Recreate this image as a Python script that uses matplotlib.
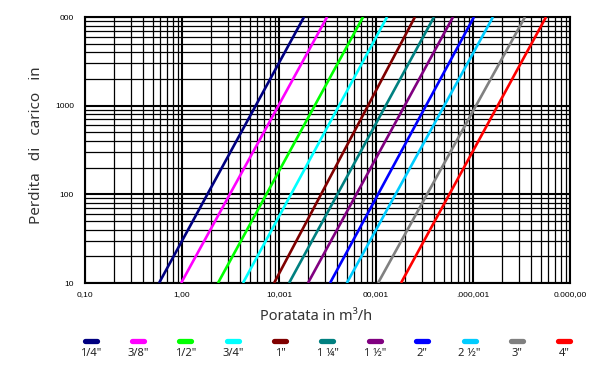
import matplotlib
matplotlib.use("Agg")
import matplotlib.pyplot as plt
from matplotlib.lines import Line2D
import numpy as np

# ---- data ----
sizes = ['1/4"', '3/8"', '1/2"', '3/4"', '1"', '1 ¼"', '1 ½"', '2"', '2 ½"', '3"', '4"']
colors = ['#000080', '#FF00FF', '#00FF00', '#00FFFF', '#800000', '#008080',
          '#800080', '#0000FF', '#00CCFF', '#808080', '#FF0000']
loss_points = [10, 10000]
flow_at_10 = [0.58, 0.98, 2.35, 4.25, 8.9, 12.7, 19.9, 33.6, 50.0, 105, 181]
flow_at_10000 = [18.1, 31.3, 73.5, 130, 252, 396, 622, 1023, 1607, 3436, 5662]
xticks = [0.1, 1, 10, 100, 1000, 10000]
xticklabels = ['0,10', '1,00', '10,001', '00,001', '.000,001', '0.000,00']
yticks = [10, 100, 1000, 10000]
yticklabels = ['10', '100', '1000', '000']

W, H = 600, 373
fig = plt.figure(figsize=(W / 100, H / 100), dpi=100)
ax = fig.add_axes([85 / W, (H - 283) / H, 485 / W, 266 / H])

for f0, f1, c in zip(flow_at_10, flow_at_10000, colors):
    ax.plot([f0, f1], loss_points, color=c, lw=1.9, solid_capstyle='butt', zorder=3)

ax.set_xscale('log')
ax.set_yscale('log')
ax.set_xlim(0.1, 10000)
ax.set_ylim(10, 10000)
ax.grid(which='major', color='black', lw=1.5, zorder=1)
ax.grid(which='minor', color='black', lw=0.9, zorder=1)
ax.set_axisbelow(True)
for s in ax.spines.values():
    s.set_color('black')
    s.set_linewidth(1.5)

ax.set_xticks(xticks)
ax.set_xticklabels(xticklabels, fontsize=6, family='Liberation Sans')
ax.set_yticks(yticks)
ax.set_yticklabels(yticklabels, fontsize=6, family='Liberation Sans')
ax.tick_params(which='both', length=0)
ax.tick_params(axis='x', pad=6)
ax.tick_params(axis='y', pad=8)

fig.text(37 / W, 1 - 145 / H, 'Perdita   di   carico   in', rotation=90,
         ha='center', va='center', fontsize=11, color='#333333', family='Noto Sans')
fig.text(316 / W, 1 - 316 / H, 'Poratata in m³/h', ha='center', va='center',
         fontsize=10.5, color='#333333', family='Noto Sans')

# legend (handle above label)
for i, (lab, c) in enumerate(zip(sizes, colors)):
    cx = 90.7 + 47.35 * i
    fig.add_artist(Line2D([(cx - 6) / W, (cx + 6) / W], [1 - 340.5 / H, 1 - 340.5 / H],
                          color=c, lw=3.8, solid_capstyle='round'))
    fig.text(cx / W, 1 - 354 / H, lab, ha='center', va='center', fontsize=8,
             color='#222222', family='Noto Sans')

fig.savefig('out.png', dpi=100)
